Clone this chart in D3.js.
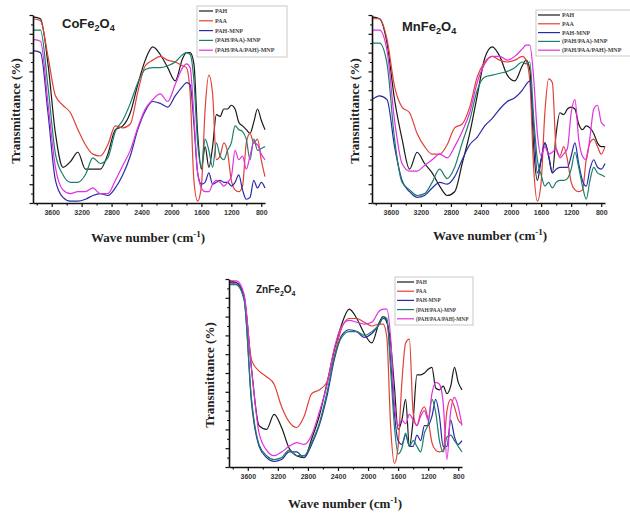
<!DOCTYPE html>
<html><head><meta charset="utf-8">
<script src="https://cdn.jsdelivr.net/npm/d3@7"></script>
<style>body{margin:0;background:#fff;} svg{display:block;}</style>
</head><body>
<svg id="chart" width="630" height="513"></svg>
<script>
// ---- data ----
const wavenumbers = [3850,3750,3650,3550,3450,3350,3250,3150,3050,2950,2850,2750,2650,2550,2450,2350,2250,2150,2050,1950,1850,1800,1750,1700,1650,1600,1550,1500,1450,1400,1350,1300,1250,1200,1150,1100,1050,1000,950,900,850,800,750];
const seriesNames = ["PAH","PAA","PAH-MNP","(PAH/PAA)-MNP","(PAH/PAA/PAH)-MNP"];
const seriesColors = ["#1a1a1a","#e0413a","#2a2aa8","#1c7f6c","#e030e0"];
const xTickValues = [3600,3200,2800,2400,2000,1600,1200,800];
const xMinorTickValues = [3800,3400,3000,2600,2200,1800,1400,1000];

// CoFe2O4
const co_PAH    = [99,98,74,37,19,22,27,18,18,18,26,39,41,48,63,76,83,79,72,65,77,80,80,74,37,18,30,19,30,47,46,50,50,52,50,43,41,39,37,43,50,44,39];
const co_PAA    = [98,97,78,57,52,48,39,31,26,25,31,41,40,42,59,73,76,78,76,75,73,72,58,12,1,9,50,68,58,23,25,32,27,12,7,6,9,32,37,32,34,23,14];
const co_PAHMNP = [81,80,48,12,3,1,1,2,4,5,4,8,15,25,39,49,54,53,51,57,62,64,63,42,16,10,11,16,10,11,12,11,11,9,11,15,7,2,3,12,8,11,8];
const co_PAHPAA = [92,92,62,26,15,11,11,15,24,21,24,38,44,53,64,71,72,72,73,75,79,80,79,65,32,19,34,28,19,32,25,23,28,32,41,39,38,34,23,34,28,29,30];
const co_PAHPAAPAH = [87,86,53,19,7,5,6,6,8,5,5,12,20,28,40,50,55,58,54,63,72,74,72,46,16,8,6,6,10,12,11,9,11,14,28,23,25,18,25,32,31,26,23];

// MnFe2O4
const mn_PAH    = [99,98,85,55,34,18,27,21,16,9,4,6,21,37,57,77,83,78,68,65,73,76,71,30,12,23,32,25,16,37,48,47,50,51,50,42,39,41,40,37,32,30,30];
const mn_PAA    = [98,98,87,62,51,48,37,30,26,26,31,40,42,51,67,75,78,76,75,76,78,76,65,19,1,11,48,66,64,29,25,30,23,11,7,6,7,23,32,34,30,26,30];
const mn_PAHMNP = [55,57,55,30,12,6,3,4,8,11,10,14,23,31,35,41,45,50,54,56,60,63,65,41,16,23,32,25,16,18,19,19,19,25,32,21,12,9,18,23,19,18,21];
const mn_PAHPAA = [85,85,74,34,11,7,4,5,11,18,13,19,32,44,60,67,68,69,70,72,75,74,75,46,23,15,9,11,8,11,12,12,13,18,27,19,9,2,12,19,16,15,14];
const mn_PAHPAAPAH = [92,92,81,44,21,17,17,20,23,26,24,30,38,48,64,74,78,78,76,78,82,84,84,67,37,25,30,26,27,29,24,26,29,48,55,34,25,23,35,50,52,43,41];

// ZnFe2O4
const zn_PAH    = [99,98,91,52,22,20,28,21,10,6,5,15,27,44,62,76,84,79,71,66,77,80,77,66,43,20,25,36,11,25,49,49,50,52,53,42,41,43,39,43,53,45,41];
const zn_PAA    = [98,97,90,57,51,48,44,32,24,21,27,39,41,45,59,74,79,79,77,75,76,76,69,22,2,11,45,66,68,29,22,29,32,25,13,9,8,9,30,36,32,25,23];
const zn_PAHMNP = [98,98,90,34,11,5,3,4,8,8,5,12,22,37,57,70,73,72,69,71,76,79,78,57,29,14,12,17,11,11,17,14,22,22,27,36,27,11,11,25,16,12,14];
const zn_PAHPAA = [97,97,89,36,12,6,4,5,9,6,6,13,23,39,58,69,72,72,70,72,76,80,79,52,22,7,10,18,11,14,11,8,18,23,36,29,14,8,16,17,14,11,8];
const zn_PAHPAAPAH = [99,99,92,52,18,9,6,8,11,13,12,17,29,43,63,75,78,77,76,77,83,84,84,69,34,22,25,23,28,25,22,27,30,25,39,45,44,34,4,30,37,32,22];

// ---- layout ----
const panels = [
  {metal:"Co", series:[co_PAH,co_PAA,co_PAHMNP,co_PAHPAA,co_PAHPAAPAH],
   x0:33,x1:265,y0:15,y1:203, tx:62,ty:28,tsize:13,
   lg:{x:197,y:6,w:90,h:51,row:9.8,sample:14,font:6}, ylx:17, xlx:148, xly:242},
  {metal:"Mn", series:[mn_PAH,mn_PAA,mn_PAHMNP,mn_PAHPAA,mn_PAHPAAPAH],
   x0:372,x1:605,y0:15,y1:203, tx:402,ty:31,tsize:13,
   lg:{x:536,y:10,w:96,h:46,row:8.8,sample:22,font:6}, ylx:356, xlx:490, xly:240},
  {metal:"Zn", series:[zn_PAH,zn_PAA,zn_PAHMNP,zn_PAHPAA,zn_PAHPAAPAH],
   x0:229,x1:462,y0:279,y1:467, tx:256,ty:293,tsize:10,
   lg:{x:395,y:277,w:78,h:48,row:9.2,sample:17,font:5.3}, ylx:211, xlx:345, xly:508}
];

const svg = d3.select("#chart");
svg.append("rect").attr("width",630).attr("height",513).attr("fill","#fff");

panels.forEach(p => {
  const g = svg.append("g");
  const x = d3.scaleLinear().domain([3850,750]).range([p.x0,p.x1]);
  const y = d3.scaleLinear().domain([0,100]).range([p.y1,p.y0]);

  // curves
  const line = d3.line().x((d,i)=>x(wavenumbers[i])).y(d=>y(d)).curve(d3.curveMonotoneX);
  p.series.forEach((s,k) => {
    g.append("path").datum(s).attr("d",line)
      .attr("fill","none").attr("stroke",seriesColors[k]).attr("stroke-width",1.2)
      .attr("stroke-linejoin","round");
  });

  // x axis
  const xa = g.append("g").attr("transform",`translate(0,${p.y1})`)
    .call(d3.axisBottom(x).tickValues(xTickValues).tickSize(4).tickSizeOuter(0).tickPadding(3).tickFormat(d3.format("d")));
  xa.select(".domain").attr("stroke","#111").attr("stroke-width",1.6);
  xa.selectAll(".tick line").attr("stroke","#111").attr("stroke-width",1.2);
  xa.selectAll(".tick text").attr("font-family","Liberation Sans, Arial, sans-serif")
    .attr("font-weight","bold").attr("font-size",7).attr("fill","#333");
  const xm = g.append("g").attr("transform",`translate(0,${p.y1})`)
    .call(d3.axisBottom(x).tickValues(xMinorTickValues).tickSize(2.5).tickSizeOuter(0).tickFormat(""));
  xm.select(".domain").remove();
  xm.selectAll(".tick line").attr("stroke","#111").attr("stroke-width",1.2);

  // y axis (no labels)
  const ya = g.append("g").attr("transform",`translate(${p.x0},0)`)
    .call(d3.axisLeft(y).tickValues(d3.range(0,101,10)).tickSize(3.5).tickSizeOuter(0).tickFormat(""));
  ya.select(".domain").attr("stroke","#111").attr("stroke-width",1.6);
  ya.selectAll(".tick line").attr("stroke","#111").attr("stroke-width",1.2);
  const ym = g.append("g").attr("transform",`translate(${p.x0},0)`)
    .call(d3.axisLeft(y).tickValues(d3.range(5,100,10)).tickSize(2).tickSizeOuter(0).tickFormat(""));
  ym.select(".domain").remove();
  ym.selectAll(".tick line").attr("stroke","#111").attr("stroke-width",1);

  // title
  const t = g.append("text").attr("x",p.tx).attr("y",p.ty)
    .attr("font-family","Liberation Sans, Arial, sans-serif")
    .attr("font-weight","bold").attr("font-size",p.tsize).attr("fill","#222");
  t.append("tspan").text(p.metal+"Fe");
  t.append("tspan").attr("font-size",p.tsize*0.7).attr("dy",p.tsize*0.25).text("2");
  t.append("tspan").attr("dy",-p.tsize*0.25).text("O");
  t.append("tspan").attr("font-size",p.tsize*0.7).attr("dy",p.tsize*0.25).text("4");

  // axis titles
  g.append("text").attr("transform",`translate(${p.ylx},${(p.y0+p.y1)/2+2}) rotate(-90)`)
    .attr("text-anchor","middle").attr("dominant-baseline","middle")
    .attr("font-family","Liberation Serif, Times New Roman, serif").attr("font-weight","bold")
    .attr("font-size",13).attr("fill","#222").text("Transmittance (%)");
  const xl = g.append("text").attr("x",p.xlx).attr("y",p.xly).attr("text-anchor","middle")
    .attr("font-family","Liberation Serif, Times New Roman, serif").attr("font-weight","bold")
    .attr("font-size",13).attr("fill","#222");
  xl.append("tspan").text("Wave number (cm");
  xl.append("tspan").attr("font-size",9).attr("dy",-5).text("-1");
  xl.append("tspan").attr("dy",5).text(")");

  // legend
  const L = p.lg;
  const lg = g.append("g");
  lg.append("rect").attr("x",L.x).attr("y",L.y).attr("width",L.w).attr("height",L.h)
    .attr("fill","#fff").attr("stroke","#bbb").attr("stroke-width",0.8);
  seriesNames.forEach((n,k) => {
    const yy = L.y + 5 + k*L.row;
    lg.append("line").attr("x1",L.x+2).attr("x2",L.x+2+L.sample).attr("y1",yy).attr("y2",yy)
      .attr("stroke",seriesColors[k]).attr("stroke-width",1.2);
    lg.append("text").attr("x",L.x+4+L.sample).attr("y",yy+2)
      .attr("font-family","Liberation Serif, Times New Roman, serif").attr("font-weight","bold")
      .attr("font-size",L.font).attr("fill","#444").text(n);
  });
});
</script>
</body></html>
